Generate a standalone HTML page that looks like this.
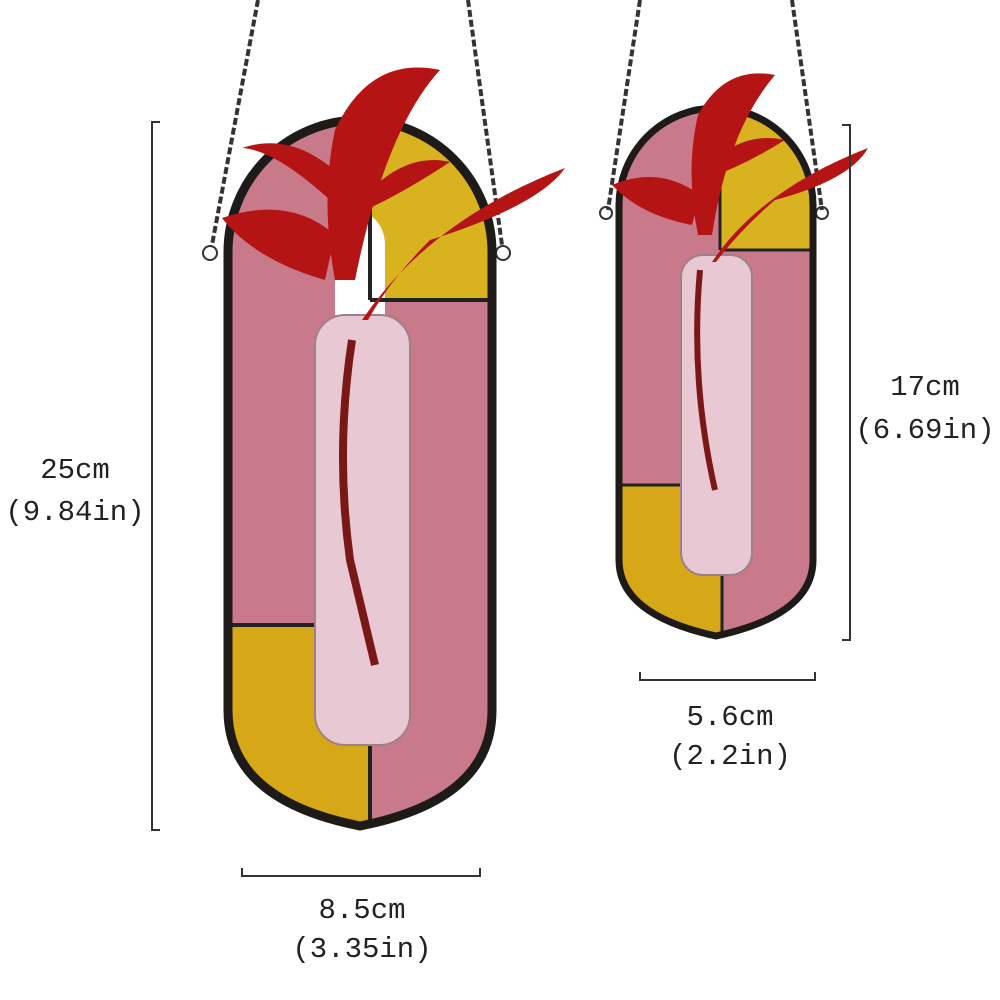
<!DOCTYPE html>
<html><head><meta charset="utf-8"><style>
html,body{margin:0;padding:0;background:#fff;width:1000px;height:1000px;overflow:hidden}
text{font-family:"Liberation Mono",monospace;font-size:29px;fill:#222}
</style></head><body>
<svg width="1000" height="1000" viewBox="0 0 1000 1000" xmlns="http://www.w3.org/2000/svg">
<defs>
<clipPath id="big"><path d="M228,252 A132,132 0 0 1 492,252 L492,710 Q492,800 360,826 Q228,800 228,710 Z"/></clipPath>
<clipPath id="sm"><path d="M619,205 A97,97 0 0 1 813,205 L813,560 Q813,615 716,636 Q619,615 619,560 Z"/></clipPath>
</defs>
<g stroke="#333" stroke-width="4" fill="none" stroke-dasharray="7,3">
<line x1="258" y1="0" x2="212" y2="245"/><line x1="468" y1="0" x2="502" y2="245"/>
<line x1="640" y1="0" x2="608" y2="210"/><line x1="792" y1="0" x2="822" y2="210"/>
</g>
<g fill="none" stroke="#333" stroke-width="2"><circle cx="210" cy="253" r="7"/><circle cx="503" cy="253" r="7"/><circle cx="606" cy="213" r="6"/><circle cx="822" cy="213" r="6"/></g>
<g clip-path="url(#big)">
<rect x="200" y="100" width="320" height="750" fill="#c97a8a"/>
<rect x="370" y="110" width="130" height="190" fill="#d9b220"/>
<rect x="220" y="625" width="150" height="210" fill="#d6a818"/>
<path d="M335,315 L335,245 A25,32 0 0 1 385,245 L385,315Z" fill="#fff"/>
<g stroke="#222" stroke-width="4"><line x1="370" y1="110" x2="370" y2="300"/><line x1="370" y1="300" x2="500" y2="300"/><line x1="220" y1="625" x2="320" y2="625"/><line x1="370" y1="745" x2="370" y2="835"/></g>
</g>
<path d="M228,252 A132,132 0 0 1 492,252 L492,710 Q492,800 360,826 Q228,800 228,710 Z" fill="none" stroke="#1e1a18" stroke-width="9"/>
<rect x="315" y="315" width="95" height="430" rx="30" fill="#e8c8d2" stroke="#a08088" stroke-width="2"/>
<path d="M352,340 Q335,450 350,560 L375,665" stroke="#7a1818" stroke-width="8" fill="none"/>
<g fill="#b51414">
<path d="M335,280 Q320,200 335,130 Q370,55 440,70 Q385,130 355,280Z"/>
<path d="M325,280 Q255,260 222,218 Q290,195 335,235Z"/>
<path d="M330,200 Q275,150 242,148 Q295,130 345,180Z"/>
<path d="M362,320 Q430,220 565,168 Q540,205 430,240 Q390,280 368,320Z"/>
<path d="M352,210 Q400,150 450,162 Q400,195 355,215Z"/>
</g>
<g clip-path="url(#sm)">
<rect x="600" y="100" width="230" height="550" fill="#c97a8a"/>
<rect x="720" y="110" width="100" height="140" fill="#d9b220"/>
<rect x="610" y="485" width="112" height="160" fill="#d6a818"/>
<g stroke="#222" stroke-width="3"><line x1="720" y1="110" x2="720" y2="250"/><line x1="720" y1="250" x2="820" y2="250"/><line x1="610" y1="485" x2="690" y2="485"/><line x1="722" y1="575" x2="722" y2="640"/></g>
</g>
<path d="M619,205 A97,97 0 0 1 813,205 L813,560 Q813,615 716,636 Q619,615 619,560 Z" fill="none" stroke="#1e1a18" stroke-width="7"/>
<rect x="681" y="255" width="71" height="320" rx="22" fill="#e8c8d2" stroke="#a08088" stroke-width="2"/>
<path d="M700,270 Q690,380 715,490" stroke="#7a1818" stroke-width="6" fill="none"/>
<g fill="#b51414">
<path d="M698,235 Q685,170 698,115 Q725,65 775,75 Q728,130 712,235Z"/>
<path d="M692,225 Q640,215 612,185 Q660,165 700,195Z"/>
<path d="M712,262 Q760,190 868,148 Q850,180 775,200 Q740,230 716,262Z"/>
<path d="M705,170 Q740,130 785,140 Q745,165 708,178Z"/>
</g>
<g stroke="#333" stroke-width="2" fill="none">
<path d="M160,122 L152,122 L152,830 L160,830"/>
<path d="M842,125 L850,125 L850,640 L842,640"/>
<path d="M242,868 L242,876 L480,876 L480,868"/>
<path d="M640,672 L640,680 L815,680 L815,672"/>
</g>
<text x="75" y="478" text-anchor="middle">25cm</text>
<text x="75" y="520" text-anchor="middle">(9.84in)</text>
<text x="925" y="395" text-anchor="middle">17cm</text>
<text x="925" y="438" text-anchor="middle">(6.69in)</text>
<text x="362" y="918" text-anchor="middle">8.5cm</text>
<text x="362" y="957" text-anchor="middle">(3.35in)</text>
<text x="730" y="725" text-anchor="middle">5.6cm</text>
<text x="730" y="764" text-anchor="middle">(2.2in)</text>
</svg>
</body></html>
